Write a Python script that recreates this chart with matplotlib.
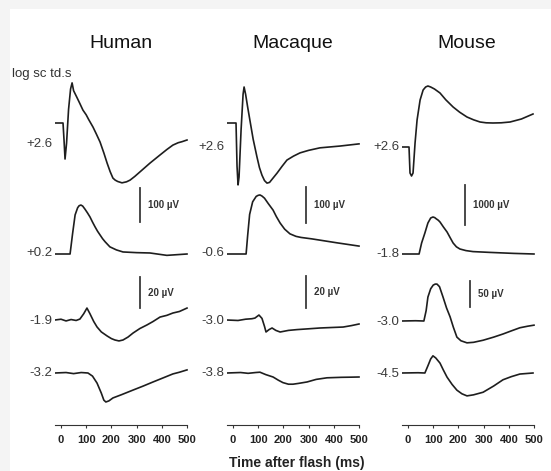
import numpy as np
import matplotlib.pyplot as plt
from matplotlib.patches import Rectangle

plt.rcParams['font.family'] = ['Liberation Sans', 'DejaVu Sans']

# ---- data (time in ms, response in µV) ----
species = ['Human', 'Macaque', 'Mouse']
intensities = [['+2.6', '+0.2', '-1.9', '-3.2'],
               ['+2.6', '-0.6', '-3.0', '-3.8'],
               ['+2.6', '-1.8', '-3.0', '-4.5']]
bar_uv = [(100, 20), (100, 20), (1000, 50)]
ticks = [0, 100, 200, 300, 400, 500]

# human
hum_t1 = [-24, 8, 12, 16, 22, 30, 38, 44, 50, 62, 75, 87, 100, 110, 127, 140, 155, 170, 183, 195, 206, 215, 225, 242, 260, 274, 293, 313, 333, 353, 373, 393, 420, 444, 465, 480, 500]
hum_v1 = [0, 0, -50, -106, -60, 40, 100, 118, 95, 77, 57, 38, 24, 10, -12, -32, -56, -88, -118, -143, -162, -168, -172, -176, -173, -168, -157, -144, -131, -118, -106, -94, -78, -65, -58, -55, -50]
hum_t2 = [-24, 36, 46, 56, 66, 72, 79, 86, 95, 105, 115, 125, 135, 145, 155, 165, 175, 194, 220, 246, 300, 353, 420, 500]
hum_v2 = [0, 0, 60, 115, 136, 142, 144, 141, 132, 121, 109, 94, 80, 67, 56, 45, 36, 21, 12, 6, 4, 3, -4, 0]
hum_t3 = [-24, 0, 20, 40, 60, 75, 90, 103, 115, 130, 143, 160, 183, 200, 214, 230, 246, 266, 286, 313, 341, 365, 393, 420, 444, 470, 500]
hum_v3 = [0, 0.5, -0.6, 0.3, -0.3, 0.6, 4, 7.7, 4, -1, -4.5, -7.7, -10.3, -12, -12.9, -13.5, -12.9, -11, -8.4, -5.5, -3.2, -1, 1.9, 3, 4.5, 5.5, 7.7]
hum_t4 = [-24, 20, 50, 80, 107, 125, 143, 160, 170, 178, 190, 206, 240, 286, 325, 365, 400, 444, 470, 490, 500]
hum_v4 = [0, 0.3, -0.4, 0.3, 0, -2, -6.5, -13, -17.5, -18.7, -18, -16.1, -14, -11, -8.5, -5.8, -3.5, -0.6, 0.5, 1.5, 2]

# macaque
mac_t1 = [-24, 12, 16, 20, 24, 32, 40, 44, 50, 58, 67, 80, 95, 105, 115, 125, 135, 145, 160, 175, 195, 214, 240, 266, 300, 345, 425, 500]
mac_v1 = [0, 0, -120, -172, -150, -20, 80, 100, 80, 45, 8, -45, -94, -124, -145, -160, -167, -165, -152, -139, -120, -103, -92, -83, -76, -69, -64, -58]
mac_t2 = [-24, 52, 58, 66, 78, 92, 100, 107, 115, 125, 140, 159, 172, 187, 205, 226, 250, 270, 313, 413, 500]
mac_v2 = [0, 0, 50, 110, 145, 160, 163, 164, 161, 155, 140, 122, 104, 86, 69, 56, 49, 46, 42, 31, 22]
mac_t3 = [-24, 20, 50, 75, 87, 103, 115, 125, 131, 143, 155, 170, 187, 220, 254, 300, 345, 390, 437, 470, 500]
mac_v3 = [0, -0.3, 0.5, 0.8, 1.2, 3.1, 1, -4, -7.5, -6, -5, -6.5, -7.5, -6.5, -6, -5.5, -5, -4.7, -4.4, -3.5, -2.5]
mac_t4 = [-24, 30, 60, 90, 107, 130, 159, 180, 198, 220, 238, 260, 294, 330, 373, 430, 470, 500]
mac_v4 = [0, 0.3, -0.2, 0.3, 0.5, -1, -2.5, -4.5, -6, -7, -7, -6.5, -5.6, -4, -3, -2.7, -2.6, -2.5]

# mouse
mou_t1 = [-24, 4, 8, 14, 20, 28, 36, 48, 60, 70, 79, 90, 105, 127, 150, 179, 205, 234, 260, 286, 310, 337, 370, 405, 450, 496]
mou_v1 = [0, 0, -650, -725, -650, 100, 675, 1175, 1425, 1500, 1525, 1500, 1450, 1350, 1180, 1000, 870, 750, 680, 625, 605, 600, 605, 625, 700, 825]
mou_t2 = [-24, 44, 54, 67, 79, 90, 99, 106, 112, 120, 127, 140, 155, 168, 179, 192, 206, 230, 258, 325, 420, 500]
mou_v2 = [0, 0, 275, 525, 775, 900, 925, 910, 880, 845, 800, 680, 550, 400, 275, 180, 125, 85, 60, 40, 15, 0]
mou_t3 = [-24, 30, 63, 72, 79, 90, 100, 108, 115, 125, 139, 153, 167, 180, 194, 210, 234, 260, 298, 340, 377, 410, 444, 475, 500]
mou_v3 = [0, 0.5, 0, 20, 46, 62, 69, 71, 71, 66, 46, 25, 8, -12, -31, -38, -42, -41, -37, -31, -25, -19, -13, -10, -8]
mou_t4 = [-24, 40, 67, 80, 90, 99, 110, 127, 140, 155, 175, 194, 214, 234, 260, 298, 340, 377, 410, 444, 470, 496]
mou_v4 = [0, 0.5, 0, 15, 27, 33, 29, 19, 6, -8, -22, -33, -40, -44, -42, -37, -25, -13, -7, -2, -1, 0]

traces = [[(hum_t1, hum_v1), (hum_t2, hum_v2), (hum_t3, hum_v3), (hum_t4, hum_v4)],
          [(mac_t1, mac_v1), (mac_t2, mac_v2), (mac_t3, mac_v3), (mac_t4, mac_v4)],
          [(mou_t1, mou_v1), (mou_t2, mou_v2), (mou_t3, mou_v3), (mou_t4, mou_v4)]]

# ---- layout (pixels of the 551x471 picture) ----
W, H = 551, 471
px_per_ms = 0.252
zero_px = [61, 233, 408]
baseline = [[123, 254, 320, 373], [123, 254, 320, 373], [147, 254, 321, 373]]
label_y = [[144, 253, 321, 373], [147, 253, 321, 373], [147, 254, 322, 374]]
gain = [(0.34, 1.55), (0.36, 1.6), (0.04, 0.52)]          # px per µV
bar_pos = [[(313, 188), (313, 277)], [(290, 187), (290, 276)], [(226, 185), (246, 281)]]
title_x = [121, 293, 467]
xmin, xmax = -25, 515

fig = plt.figure(figsize=(W / 100, H / 100), dpi=100)
fig.patch.set_facecolor('#f4f4f4')
fig.add_artist(Rectangle((10 / W, 0), 1, (H - 9) / H, transform=fig.transFigure,
                         facecolor='white', edgecolor='none', zorder=0))

for c in range(3):
    left = zero_px[c] + xmin * px_per_ms
    ax = fig.add_axes([left / W, 0, (xmax - xmin) * px_per_ms / W, 1])
    ax.patch.set_alpha(0)
    ax.set_xlim(xmin, xmax)
    ax.set_ylim(H, 0)

    for r in range(4):
        t, v = traces[c][r]
        g = gain[c][0] if r < 2 else gain[c][1]
        ax.plot(t, baseline[c][r] - g * np.array(v), color='#1e1e1e', lw=1.2,
                solid_joinstyle='round')
        ax.annotate(intensities[c][r], xy=(xmin, label_y[c][r]), xytext=(-1.5, 0),
                    textcoords='offset points', ha='right', va='center',
                    fontsize=9.5, color='#3a3a3a', annotation_clip=False)

    for k in range(2):
        bx, by = bar_pos[c][k]
        length = bar_uv[c][k] * gain[c][k]
        ax.plot([bx, bx], [by, by + length], color='#3a3a3a', lw=1.3)
        ax.annotate(f'{bar_uv[c][k]} µV', xy=(bx, by + length / 2), xytext=(5.5, 0),
                    textcoords='offset points', ha='left', va='center',
                    fontsize=7, fontweight='bold', color='#333333')

    for s in ['left', 'right', 'top']:
        ax.spines[s].set_visible(False)
    ax.spines['bottom'].set_position(('data', 425))
    ax.spines['bottom'].set_bounds(xmin, 500)
    ax.spines['bottom'].set_color('#333333')
    ax.spines['bottom'].set_linewidth(0.8)
    ax.set_yticks([])
    ax.set_xticks(ticks)
    ax.set_xticklabels([str(x) for x in ticks], fontsize=8, fontweight='bold')
    ax.tick_params(axis='x', direction='out', length=2.5, width=0.8, pad=5,
                   color='#333333', labelcolor='#222222')

    fig.text(title_x[c] / W, 1 - 43 / H, species[c], ha='center', va='center',
             fontsize=14, color='#111111')

fig.text(12 / W, 1 - 74 / H, 'log sc td.s', ha='left', va='center',
         fontsize=9.5, color='#333333')
fig.text(297 / W, 1 - 463 / H, 'Time after flash (ms)', ha='center', va='center',
         fontsize=10, fontweight='bold', color='#222222')

fig.savefig('out.png', dpi=100, facecolor=fig.get_facecolor())
